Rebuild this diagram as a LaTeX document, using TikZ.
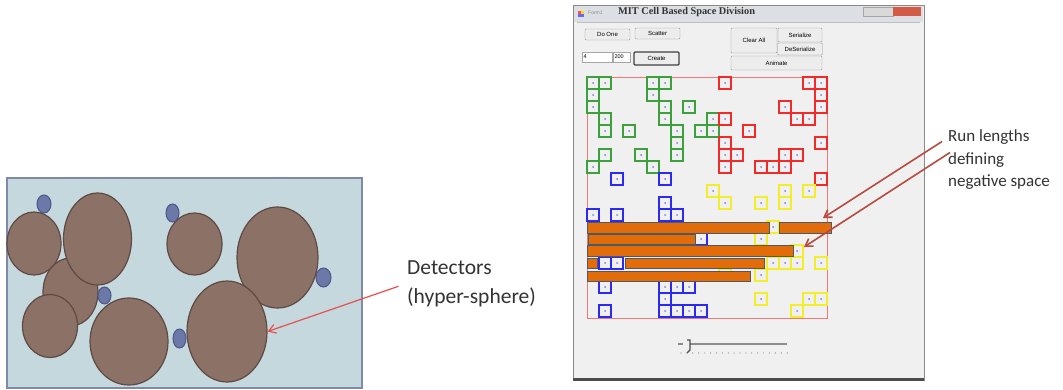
\documentclass[tikz,border=0pt]{standalone}
\usepackage{fontspec}
\setmainfont{Carlito}
\newfontfamily\uifont{Liberation Sans}
\newfontfamily\titlefont{Liberation Serif}
\usetikzlibrary{shapes.geometric,arrows.meta}

\definecolor{paneblue}{HTML}{C4D8DE}
\definecolor{paneedge}{HTML}{7F8AA8}
\definecolor{brownfill}{HTML}{8C7166}
\definecolor{brownline}{HTML}{5E4A43}
\definecolor{sensorfill}{HTML}{6C78A8}
\definecolor{sensorline}{HTML}{4B5787}
\definecolor{detectred}{HTML}{E85050}
\definecolor{runred}{HTML}{B84A42}
\definecolor{textgray}{HTML}{333333}
\definecolor{winbg}{HTML}{F0F0F0}
\definecolor{winframe}{HTML}{8A8A8A}
\definecolor{titlebar}{HTML}{DCDFE4}
\definecolor{closered}{HTML}{D25A46}
\definecolor{gridred}{HTML}{F07878}
\definecolor{cellgreen}{HTML}{3CA03C}
\definecolor{cellred}{HTML}{F22A2A}
\definecolor{cellblue}{HTML}{2A2AF2}
\definecolor{cellyellow}{HTML}{F2EE2A}
\definecolor{dotblue}{HTML}{7A7AEE}
\definecolor{barorange}{HTML}{E36C0A}
\definecolor{barline}{HTML}{4A5A68}

\begin{document}
\begin{tikzpicture}[x=1pt,y=-1pt,>={Straight Barb[length=7pt,width=9pt]},
    detector/.style={ellipse, draw=brownline, fill=brownfill, line width=1.2pt, inner sep=0pt},
    sensor/.style={ellipse, draw=sensorline, fill=sensorfill, line width=1pt, inner sep=0pt},
    cell/.style={line width=1.4pt},
    runbar/.style={draw=barline, fill=barorange, line width=0.8pt},
    button/.style={draw=black!40, fill=black!7, rounded corners=1pt, inner sep=0pt, font=\uifont\fontsize{6}{7}\selectfont},
    field/.style={draw=black!35, fill=white, minimum height=10pt, inner xsep=1.5pt, inner ysep=0pt, align=left, font=\uifont\fontsize{5.5}{6}\selectfont},
    callout/.style={text=textgray, align=left, inner sep=0pt, anchor=north west},
    ]
    \fill[white] (0,0) rectangle (1063,389);
    \useasboundingbox (0,0) rectangle (1063,389);

    % detectors in the box
    \draw[fill=paneblue, draw=paneedge, line width=1.5pt] (7,178) rectangle (362,388);
    \node [detector, minimum width=55pt, minimum height=68pt](3) at (70.5,292) {};
    \node [detector, minimum width=54pt, minimum height=63pt](1) at (34,243.5) {};
    \node [detector, minimum width=68pt, minimum height=92pt](2) at (97.5,239) {};
    \node [detector, minimum width=55pt, minimum height=63pt](4) at (50,326) {};
    \node [detector, minimum width=78pt, minimum height=87pt](5) at (129,341.5) {};
    \node [detector, minimum width=55pt, minimum height=62pt](6) at (194.5,244) {};
    \node [detector, minimum width=81pt, minimum height=101pt](7) at (277.5,257.5) {};
    \node [detector, minimum width=80pt, minimum height=101pt](8) at (227,331.5) {};

    \node [sensor, minimum width=14pt, minimum height=18pt](9) at (44,204) {};
    \node [sensor, minimum width=13pt, minimum height=17pt](10) at (104.5,295.5) {};
    \node [sensor, minimum width=13pt, minimum height=18pt](11) at (172.5,213) {};
    \node [sensor, minimum width=13pt, minimum height=19pt](12) at (179.5,338.5) {};
    \node [sensor, minimum width=15pt, minimum height=19pt](13) at (323.5,277.5) {};

    \node [callout, font=\fontsize{21.5}{29}\selectfont](detect) at (407,260) {Detectors\\(hyper-sphere)};
    \draw[->, detectred, line width=1.2pt, shorten <=9pt] (detect.west) -- (8.east);

    % the form window
    \draw[fill=winbg, draw=winframe, line width=1pt] (573,5) rectangle (924,380);
    \fill[titlebar] (574,6) rectangle (923,22);
    \draw[black!25] (577,22) -- (920,22);
    \draw[black!70, line width=3pt] (573,379) -- (924,379);
    \fill[red!70] (578,11) rectangle (581,14);
    \fill[yellow!80!orange] (581,11) rectangle (584,14);
    \fill[blue!60] (578,14) rectangle (584,17);
    \node [anchor=west, inner sep=0pt, text=black!45, font=\uifont\fontsize{5}{6}\selectfont](form) at (588,13) {Form1};
    \node [anchor=west, inner sep=0pt, text=black!80, font=\titlefont\bfseries\fontsize{10.3}{11}\selectfont](title) at (618,12) {MIT Cell Based Space Division};
    \draw[fill=black!15, draw=black!35] (863,7) rectangle (893,16);
    \fill[closered] (893,7) rectangle (921,16);

    \node [button, minimum width=45pt, minimum height=11pt](doone) at (607.5,34.5) {Do One};
    \node [button, minimum width=45pt, minimum height=11pt](scatter) [right of = doone, node distance=50pt, yshift=1pt] {Scatter};
    \node [field, text width=27pt](count) at (597,57) {4};
    \node [field, text width=14pt](size) at (621.5,57) {200};
    \node [button, draw=black!75, line width=1.2pt, minimum width=45pt, minimum height=13pt](create) at (656.5,58.5) {Create};
    \node [button, minimum width=46pt, minimum height=25pt](clear) at (754,40.5) {Clear All};
    \node [button, minimum width=44pt, minimum height=14pt](serial) at (800,35) {Serialize};
    \node [button, minimum width=45pt, minimum height=12pt](deserial) [below of = serial, node distance=14pt] {DeSerialize};
    \node [button, minimum width=91pt, minimum height=14pt](animate) at (776.5,63) {Animate};

    % cells, 12pt each
    \draw[gridred, line width=1pt] (587,77) rectangle (827,318);
    \foreach \c/\r in {0/0,1/0,0/1,0/2,1/3,1/4,1/6,0/7,3/4,5/0,6/0,5/1,6/2,6/3,7/4,7/5,7/6,8/2,10/3,9/4,10/4,4/6,5/7}
        {\draw[cell, cellgreen] ({587+12*\c},{77+12*\r}) rectangle +(12,12);
         \fill[dotblue] ({593+12*\c},{83+12*\r}) circle (1);}
    \foreach \c/\r in {11/0,11/3,13/4,11/5,11/6,12/6,11/7,18/0,19/0,19/1,16/2,19/2,17/3,18/3,19/5,14/7,15/7,16/7,16/6,17/6,19/8}
        {\draw[cell, cellred] ({587+12*\c},{77+12*\r}) rectangle +(12,12);
         \fill[dotblue] ({593+12*\c},{83+12*\r}) circle (1);}
    \foreach \c/\r in {2/8,6/8,6/10,0/11,2/11,6/11,7/11,9/13,1/15,2/15,1/17,6/17,7/17,8/17,6/18,1/19,6/19,7/19,8/19,9/19}
        {\draw[cell, cellblue] ({587+12*\c},{77+12*\r}) rectangle +(12,12);
         \fill[dotblue] ({593+12*\c},{83+12*\r}) circle (1);}
    \foreach \c/\r in {10/9,11/10,14/10,16/9,16/10,18/9,15/12,14/13,17/14,15/15,16/15,17/15,19/15,14/16,11/16,14/18,18/18,19/18,17/19}
        {\draw[cell, cellyellow] ({587+12*\c},{77+12*\r}) rectangle +(12,12);
         \fill[dotblue] ({593+12*\c},{83+12*\r}) circle (1);}

    % run length bars
    \draw[runbar] (587,222) rectangle (769,233);
    \draw[runbar] (779,222) rectangle (831,233);
    \draw[runbar] (588,234) rectangle (695,244);
    \draw[runbar] (587,245) rectangle (793,256);
    \draw[runbar] (587,258) rectangle (597,268);
    \draw[runbar] (625,258) rectangle (764,268);
    \draw[runbar] (587,271) rectangle (750,281);

    % slider
    \draw[black!45, line width=1.2pt] (678,344) -- (683,344);
    \draw[black!45, line width=1.2pt] (690,344) -- (787,344);
    \draw[black!70, line width=1.1pt] (687,340) -- (690,340) -- (690,350) -- (687,353);
    \foreach \i in {0,...,18}
        \fill[black!50] ({681+5.9*\i},353) circle (0.6);

    \node [callout, font=\fontsize{17}{22.5}\selectfont](run) at (948,129.5) {Run lengths\\defining\\negative space};
    \coordinate (tip1) at (823,218);
    \coordinate (tip2) at (804,247);
    \draw[->, runred, line width=1.6pt] ([shift={(-6,12)}]run.north west) -- (tip1);
    \draw[->, runred, line width=1.6pt] ([shift={(2,23)}]run.north west) -- (tip2);
\end{tikzpicture}
\end{document}
